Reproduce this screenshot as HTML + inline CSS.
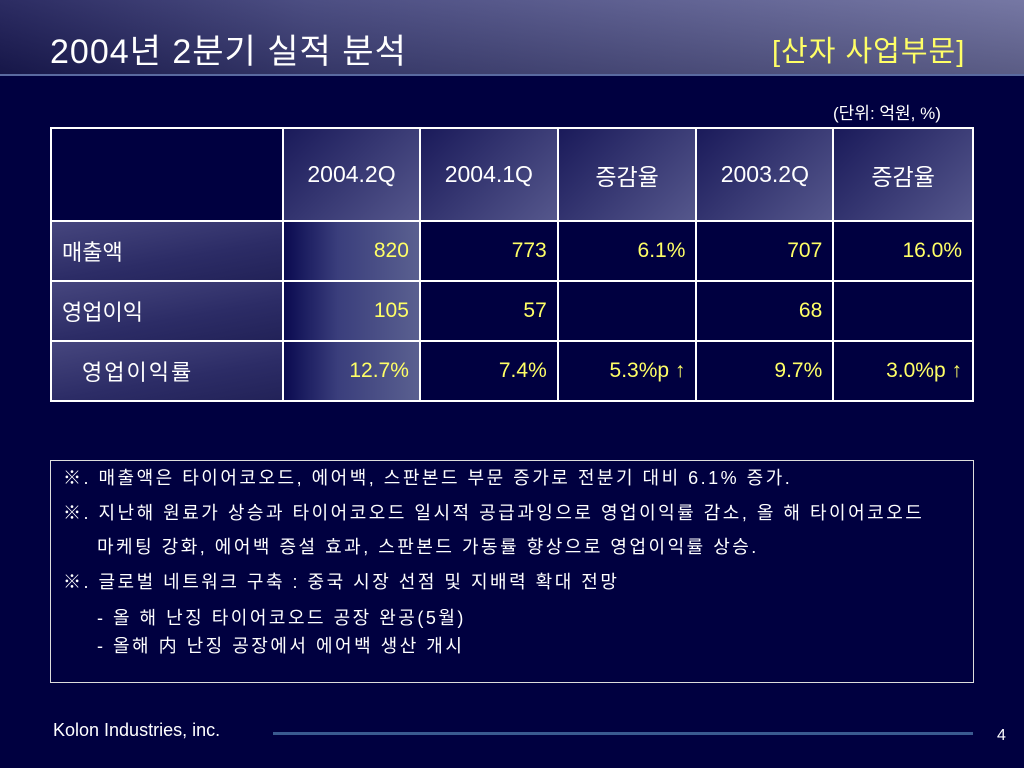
<!DOCTYPE html>
<html><head><meta charset="utf-8"><style>
*{margin:0;padding:0;box-sizing:border-box}
body{width:1024px;height:768px;background:#000040;position:relative;overflow:hidden;font-family:"Liberation Sans","Noto Sans CJK KR",sans-serif;color:#fff}
.hdr{position:absolute;left:0;top:0;width:1024px;height:76px;background:linear-gradient(90deg,#1a1a55 0%,#3d3f78 30%,#6a6c9c 100%);border-bottom:2px solid #5a6aa0}
.hdr:after{content:"";position:absolute;left:0;top:0;right:0;bottom:0;background:linear-gradient(180deg,rgba(255,255,255,0.08),rgba(0,0,0,0.15))}
.t{position:absolute;white-space:nowrap}
table{position:absolute;left:50px;top:127px;width:924px;border-collapse:collapse;border:2px solid #fff}
td{border:2px solid #fff;height:60px;font-size:21px;padding:0 10px}
.hd td{height:93px;text-align:center;font-size:23px;background:linear-gradient(135deg,#1a1a5a 0%,#55578c 100%)}
.hd td.dk{background:#000040}
.num{text-align:right;color:#ffff66}
.lbl{background:linear-gradient(170deg,#46467e 0%,#2c2c66 60%,#222258 100%);font-size:22px}
.c1{background:linear-gradient(90deg,#0a0a50 0%,#3a3e7c 40%,#5a6090 100%)}
.dk{background:#000040}
tr.r2 td{border-bottom:1px dotted #fff}
.notes{position:absolute;left:50px;top:460px;width:924px;height:223px;border:1px solid #ddd;font-size:18px;line-height:22px;letter-spacing:2.5px}
</style></head><body>
<div class="hdr"></div>
<div class="t" style="left:50px;top:24px;font-size:34px;letter-spacing:1px">2004년 2분기 실적 분석</div>
<div class="t" style="left:772px;top:28px;font-size:29px;letter-spacing:1px;color:#ffff66">[산자 사업부문]</div>
<div class="t" style="left:833px;top:99px;font-size:17px;">(단위: 억원, %)</div>
<table>
<colgroup><col style="width:233px"><col style="width:137px"><col style="width:138px"><col style="width:139px"><col style="width:137px"><col style="width:140px"></colgroup>
<tr class="hd"><td class="dk"></td><td>2004.2Q</td><td>2004.1Q</td><td>증감율</td><td>2003.2Q</td><td>증감율</td></tr>
<tr><td class="lbl">매출액</td><td class="num c1">820</td><td class="num dk">773</td><td class="num dk">6.1%</td><td class="num dk">707</td><td class="num dk">16.0%</td></tr>
<tr class="r2"><td class="lbl">영업이익</td><td class="num c1">105</td><td class="num dk">57</td><td class="num dk"></td><td class="num dk">68</td><td class="num dk"></td></tr>
<tr><td class="lbl" style="padding-left:30px;letter-spacing:2px">영업이익률</td><td class="num c1">12.7%</td><td class="num dk">7.4%</td><td class="num dk">5.3%p ↑</td><td class="num dk">9.7%</td><td class="num dk">3.0%p ↑</td></tr>
</table>
<div class="notes">
<div class="t" style="left:12px;top:6px">※. 매출액은 타이어코오드, 에어백, 스판본드 부문 증가로 전분기 대비 6.1% 증가.</div>
<div class="t" style="left:12px;top:41px">※. 지난해 원료가 상승과 타이어코오드 일시적 공급과잉으로 영업이익률 감소, 올 해 타이어코오드</div>
<div class="t" style="left:46px;top:75px">마케팅 강화, 에어백 증설 효과, 스판본드 가동률 향상으로 영업이익률 상승.</div>
<div class="t" style="left:12px;top:110px">※. 글로벌 네트워크 구축 : 중국 시장 선점 및 지배력 확대 전망</div>
<div class="t" style="left:46px;top:146px">- 올 해 난징 타이어코오드 공장 완공(5월)</div>
<div class="t" style="left:46px;top:174px">- 올해 内 난징 공장에서 에어백 생산 개시</div>
</div>
<div class="t" style="left:53px;top:720px;font-size:18px">Kolon Industries, inc.</div>
<div style="position:absolute;left:273px;top:732px;width:700px;height:3px;background:#3a5a90"></div>
<div class="t" style="left:997px;top:727px;font-size:16px">4</div>
</body></html>
